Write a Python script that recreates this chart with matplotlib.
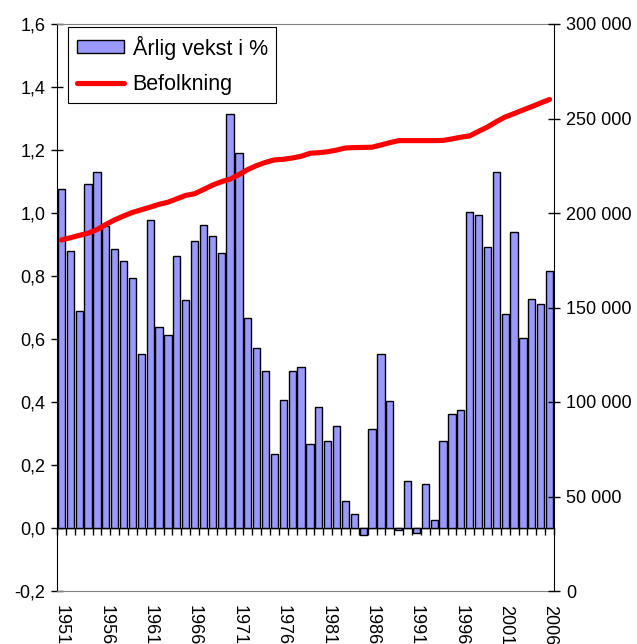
import matplotlib
matplotlib.use("Agg")
from matplotlib import pyplot as plt
from matplotlib.ticker import FuncFormatter
import matplotlib.patches as mpatches
from matplotlib.lines import Line2D
import numpy as np

plt.rcParams['font.family'] = ['Liberation Sans', 'DejaVu Sans']

aar = np.arange(1951, 2007)

# Årlig vekst i % (venstre akse)
vekst = [1.075, 0.879, 0.690, 1.092, 1.131, 0.960, 0.885, 0.848, 0.793, 0.552,
         0.978, 0.639, 0.613, 0.865, 0.723, 0.912, 0.961, 0.928, 0.874, 1.314,
         1.191, 0.667, 0.570, 0.498, 0.234, 0.406, 0.498, 0.510, 0.266, 0.385,
         0.276, 0.325, 0.086, 0.043, -0.022, 0.314, 0.553, 0.402, -0.006, 0.150,
         -0.017, 0.141, 0.025, 0.276, 0.362, 0.375, 1.004, 0.994, 0.891, 1.129,
         0.679, 0.941, 0.602, 0.728, 0.711, 0.815]

# Befolkning (høyre akse)
befolkning = [185700, 186900, 188150, 189300, 191200, 193900, 196400, 198400, 200300, 201700,
              203100, 204600, 205700, 207500, 209300, 210200, 212400, 214700, 216500, 217900,
              220300, 223000, 225100, 226800, 228100, 228400, 229100, 230000, 231600, 231900,
              232400, 233300, 234400, 234600, 234700, 234800, 236000, 237200, 238300, 238300,
              238300, 238300, 238300, 238400, 239200, 240100, 240800, 243200, 245500, 248300,
              250800, 252600, 254500, 256300, 258200, 260100]

etikett_aar = aar[::5]

fig = plt.figure(figsize=(6.37, 6.44), dpi=100)
ax = fig.add_axes([57/637, 1 - 591/644, 497/637, 567/644])

bar_farge = '#9999ff'
ax.bar(aar, vekst, width=0.82, color=bar_farge, edgecolor='black', linewidth=1.0, zorder=2)

ymin, ymax = -0.2, 1.6
ax.set_ylim(ymin, ymax)
ax.set_xlim(aar[0] - 0.5, aar[-1] + 0.5)
ax.set_yticks(np.arange(-0.2, 1.61, 0.2))
ax.yaxis.set_major_formatter(FuncFormatter(lambda v, p: f"{v:.1f}".replace('.', ',')))
ax.tick_params(axis='y', direction='inout', length=9, width=1, labelsize=13, pad=4)

ax.set_xticks(etikett_aar)
ax.set_xticklabels([str(a) for a in etikett_aar], rotation=270, fontsize=13, va='top', ha='center')
ax.tick_params(axis='x', length=0, pad=10)

for s in ['top', 'bottom']:
    ax.spines[s].set_color('#808080')
ax.spines['left'].set_color('black')
ax.spines['right'].set_visible(False)

# nulllinje med små tickmerker mellom kategoriene
null_pos = (0 - ymin) / (ymax - ymin)
sek = ax.secondary_xaxis(null_pos)
sek.set_xticks(np.append(aar - 0.5, aar[-1] + 0.5))
sek.set_xticklabels([])
sek.tick_params(axis='x', direction='out', length=5, width=1, color='black')
sek.spines['bottom'].set_color('black')
sek.spines['bottom'].set_linewidth(1.0)

ax2 = ax.twinx()
ax2.plot(aar, befolkning, color='#ff0000', linewidth=3.7, solid_capstyle='round', zorder=3)
ax2.set_ylim(0, 300000)
ax2.set_yticks(np.arange(0, 300001, 50000))
ax2.yaxis.set_major_formatter(FuncFormatter(lambda v, p: f"{int(v):,}".replace(',', ' ')))
ax2.tick_params(axis='y', direction='inout', length=9, width=1, labelsize=13, pad=4)
for s in ['top', 'bottom', 'left']:
    ax2.spines[s].set_visible(False)
ax2.spines['right'].set_color('black')

handles = [mpatches.Patch(facecolor=bar_farge, edgecolor='black', linewidth=1.0),
           Line2D([0], [0], color='#ff0000', linewidth=3.7, solid_capstyle='round')]
leg = ax2.legend(handles, ['Årlig vekst i %', 'Befolkning'], loc='upper left',
                 bbox_to_anchor=(0.022, 0.995), borderaxespad=0, fontsize=15.5,
                 frameon=True, fancybox=False, edgecolor='black', framealpha=1,
                 handlelength=2.2, handleheight=0.55, labelspacing=0.65,
                 borderpad=0.4, handletextpad=0.4)
leg.get_frame().set_linewidth(0.8)

fig.savefig('out.png', dpi=100)
